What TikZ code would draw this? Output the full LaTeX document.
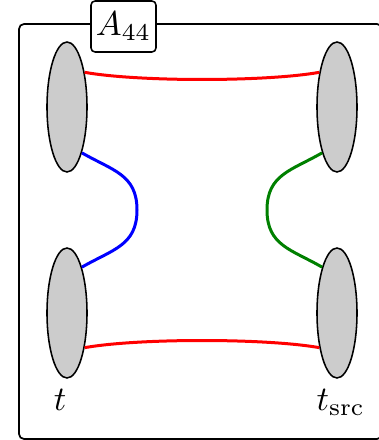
\documentclass[tikz,border=0pt]{standalone}
\usetikzlibrary{shapes.geometric}
\begin{document}
\begin{tikzpicture}[x=0.29pt,y=0.29pt,
  blob/.style={ellipse,draw=black,line width=0.45pt,fill=black!20,inner sep=0pt,minimum width=11.6pt,minimum height=37.7pt},
  tag/.style={draw=black,line width=0.45pt,fill=white,rounded corners=1.2pt,inner sep=0pt,minimum width=18.85pt,minimum height=14.8pt},
  frame/.style={draw=black,line width=0.5pt,rounded corners=1.45pt},
  link/.style={line width=0.87pt}]
\useasboundingbox (0,0) rectangle (378,440);
\draw[frame] (19,1) rectangle (382,416);
\node[tag] (lab) at (123.5,413.5) {$A_{44}$};
\node[blob] (tl) at (67,333) {};
\node[blob] (bl) at (67,127) {};
\node[blob] (tr) at (337,333) {};
\node[blob] (br) at (337,127) {};
\coordinate (bm) at (137,230);
\coordinate (gm) at (267,230);
\draw[link,red] (tl.63) to[out=-10,in=190,looseness=0.6] (tr.117);
\draw[link,red] (bl.-63) to[out=10,in=170,looseness=0.6] (br.-117);
\draw[link,blue] (tl.-72) to[out=-30,in=90,looseness=1.15] (bm) to[out=-90,in=30,looseness=1.15] (bl.72);
\draw[link,green!50!black] (tr.-108) to[out=210,in=90,looseness=1.15] (gm) to[out=-90,in=150,looseness=1.15] (br.108);
\node[anchor=base] (tlab) at (60,30) {$t$};
\node[anchor=base west,inner sep=0pt] (slab) at (316,30) {$t_{\mathrm{src}}$};
\end{tikzpicture}
\end{document}
